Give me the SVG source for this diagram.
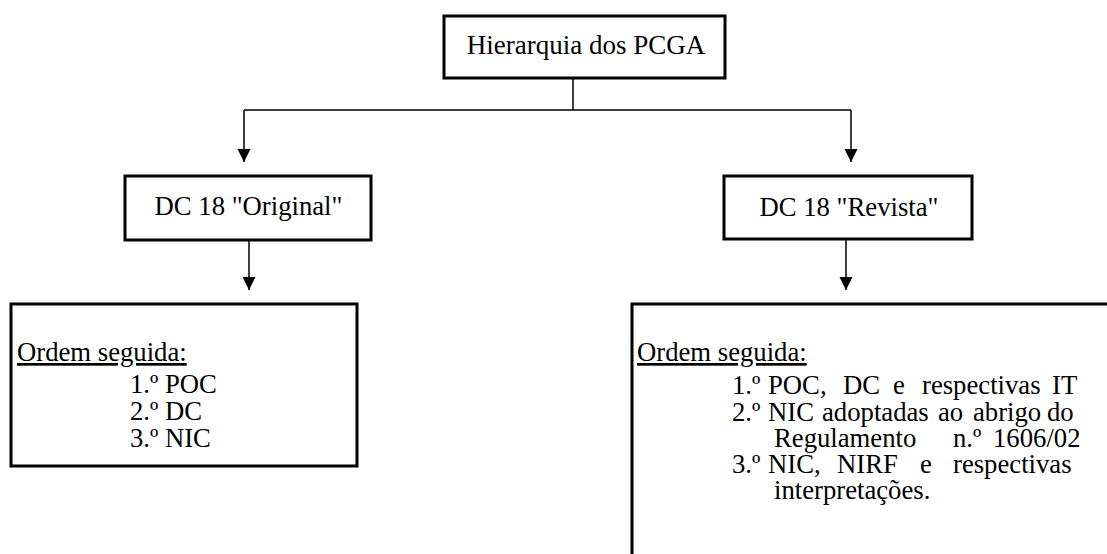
<svg xmlns="http://www.w3.org/2000/svg" width="1107" height="554" viewBox="0 0 1107 554">
  <style>
    .box { fill: #ffffff; stroke: #000000; stroke-width: 3; }
    .link { fill: none; stroke: #000000; stroke-width: 1.5; }
    text { font-family: "Liberation Serif", Tinos, "Times New Roman", Times, "Noto Serif", "DejaVu Serif", FreeSerif, serif; font-size: 26.7px; fill: #000000; }
    .mid { text-anchor: middle; }
  </style>
  <defs>
    <marker id="head" markerUnits="userSpaceOnUse" markerWidth="14" markerHeight="14" viewBox="0 0 14 14" refX="13" refY="7" orient="auto">
      <path d="M0,0.5 L13,7 L0,13.5 Z" fill="#000000"/>
    </marker>
  </defs>

  <!-- connectors -->
  <g id="connectors">
    <path class="link" d="M573,79 V110 M244,110 H851"/>
    <path class="link" d="M244,110 V162" marker-end="url(#head)"/>
    <path class="link" d="M851,110 V162" marker-end="url(#head)"/>
    <path class="link" d="M249,240 V290" marker-end="url(#head)"/>
    <path class="link" d="M846,239 V290" marker-end="url(#head)"/>
  </g>

  <g id="root">
    <rect class="box" x="444" y="16" width="281" height="62"/>
    <text class="mid" x="586" y="54" style="font-size:27px">Hierarquia dos PCGA</text>
  </g>

  <g id="original">
    <rect class="box" x="125" y="176" width="246" height="64"/>
    <text class="mid" x="248.5" y="215">DC 18 "Original"</text>
  </g>

  <g id="revista">
    <rect class="box" x="724" y="176" width="248" height="63"/>
    <text class="mid" x="849" y="216">DC 18 "Revista"</text>
  </g>

  <g id="ordem-original">
    <rect class="box" x="11" y="304" width="346" height="162"/>
    <text x="17" y="361" text-decoration="underline">Ordem seguida:</text>
    <text x="130" y="393">1.º POC</text>
    <text x="130" y="420">2.º DC</text>
    <text x="130" y="447">3.º NIC</text>
  </g>

  <g id="ordem-revista">
    <path class="box" d="M632,556 V304 H1110"/>
    <text x="637" y="361" text-decoration="underline">Ordem seguida:</text>
    <text y="394"><tspan x="732">1.º</tspan><tspan x="768">POC,</tspan><tspan x="843">DC</tspan><tspan x="893">e</tspan><tspan x="922">respectivas</tspan><tspan x="1052">IT</tspan></text>
    <text y="421"><tspan x="732">2.º</tspan><tspan x="768">NIC</tspan><tspan x="822">adoptadas</tspan><tspan x="938">ao</tspan><tspan x="973">abrigo</tspan><tspan x="1047">do</tspan></text>
    <text y="447"><tspan x="774">Regulamento</tspan><tspan x="953">n.º</tspan><tspan x="993">1606/02</tspan></text>
    <text y="473"><tspan x="732">3.º</tspan><tspan x="768">NIC,</tspan><tspan x="837">NIRF</tspan><tspan x="920">e</tspan><tspan x="953">respectivas</tspan></text>
    <text x="774" y="499">interpretações.</text>
  </g>
</svg>
